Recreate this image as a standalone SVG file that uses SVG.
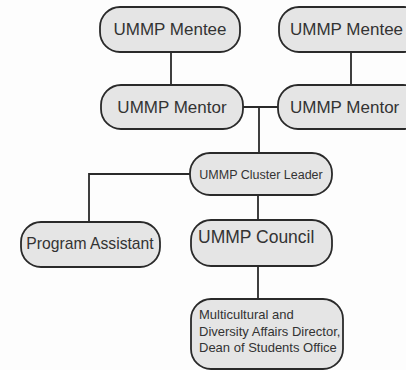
<svg xmlns="http://www.w3.org/2000/svg" width="406" height="370" viewBox="0 0 406 370">
<style>
.n{fill:#e5e5e5;stroke:#2a2a2a;stroke-width:1.8}
.c{fill:none;stroke:#2a2a2a;stroke-width:1.8}
text{font-family:"Liberation Sans",Arial,sans-serif;fill:#333}
</style>
<rect width="406" height="370" fill="#fdfdfd"/>
<g id="connectors">
<line class="c" x1="171" y1="52" x2="171" y2="85"/>
<line class="c" x1="351" y1="52" x2="351" y2="85"/>
<line class="c" x1="243" y1="107" x2="278" y2="107"/>
<line class="c" x1="259" y1="107" x2="259" y2="153"/>
<polyline class="c" points="190,174 89,174 89,222"/>
<line class="c" x1="258" y1="195" x2="258" y2="220"/>
<line class="c" x1="258" y1="266" x2="258" y2="299"/>
</g>
<g id="mentee1"><rect class="n" x="100" y="7" width="140" height="45" rx="20"/><text x="170" y="35" font-size="17" text-anchor="middle">UMMP Mentee</text></g>
<g id="mentee2"><rect class="n" x="279" y="7" width="145" height="45" rx="20"/><text x="290" y="35" font-size="17">UMMP Mentee</text></g>
<g id="mentor1"><rect class="n" x="101" y="85" width="142" height="44" rx="20"/><text x="172" y="113" font-size="17" text-anchor="middle">UMMP Mentor</text></g>
<g id="mentor2"><rect class="n" x="278" y="85" width="145" height="44" rx="20"/><text x="290" y="113" font-size="17">UMMP Mentor</text></g>
<g id="cluster"><rect class="n" x="190" y="153" width="142" height="42" rx="20"/><text x="261" y="179" font-size="12.5" text-anchor="middle">UMMP Cluster Leader</text></g>
<g id="assistant"><rect class="n" x="21" y="222" width="139" height="45" rx="20"/><text x="90" y="249" font-size="15.7" text-anchor="middle">Program Assistant</text></g>
<g id="council"><rect class="n" x="191" y="220" width="141" height="46" rx="20"/><text x="198" y="243" font-size="17.5">UMMP Council</text></g>
<g id="director"><rect class="n" x="191" y="299" width="152" height="70" rx="20"/>
<text font-size="13"><tspan x="199" y="319">Multicultural and</tspan><tspan x="199" y="336">Diversity Affairs Director,</tspan><tspan x="199" y="352">Dean of Students Office</tspan></text></g>
</svg>
